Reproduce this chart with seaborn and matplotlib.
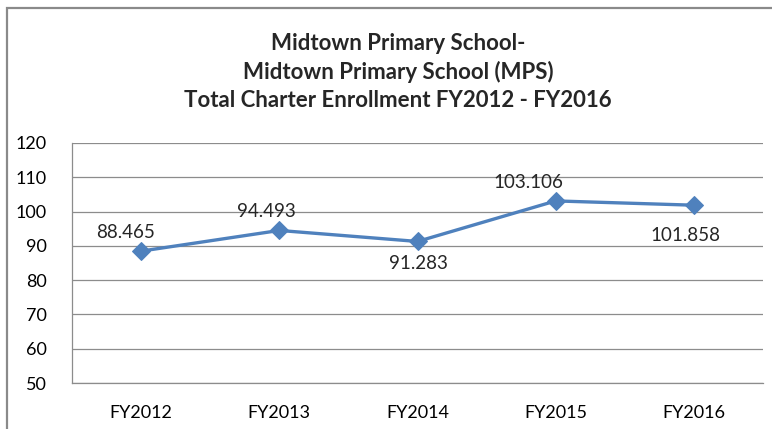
# Midtown Primary School charter enrollment line chart

import pandas as pd
import matplotlib.pyplot as plt
import matplotlib.patches as mpatches
import seaborn as sns

years = ['FY2012', 'FY2013', 'FY2014', 'FY2015', 'FY2016']
enrollment = [88.465, 94.493, 91.283, 103.106, 101.858]
y_ticks = [50, 60, 70, 80, 90, 100, 110, 120]

df = pd.DataFrame({'year': years, 'enrollment': enrollment})

sns.set_style('white')
plt.rcParams['font.family'] = ['Lato', 'DejaVu Sans']

fig = plt.figure(figsize=(7.72, 4.29), dpi=100)
ax = fig.add_axes([72 / 772, 1 - 383 / 429, 691 / 772, 240 / 429])

sns.lineplot(data=df, x='year', y='enrollment', ax=ax, color='#4F81BD', linewidth=2.4,
             marker='D', markersize=9, markeredgecolor='#4F81BD', sort=False)

ax.set_xlim(-0.5, len(years) - 0.5)
ax.set_ylim(y_ticks[0], y_ticks[-1])
ax.set_yticks(y_ticks)
ax.set_yticklabels([str(t) for t in y_ticks])
ax.set_xlabel('')
ax.set_ylabel('')
ax.yaxis.grid(True, color='#8c8c8c', linewidth=0.9)
ax.set_axisbelow(True)
ax.tick_params(axis='both', length=0, labelsize=13, colors='#000000')
ax.tick_params(axis='y', pad=18)
ax.tick_params(axis='x', pad=16)
for side in ['top', 'right']:
    ax.spines[side].set_visible(False)
for side in ['left', 'bottom']:
    ax.spines[side].set_color('#8c8c8c')
    ax.spines[side].set_linewidth(0.9)

# data labels (above or below each point, as in the source)
label_pos = [(-16, 10), (-13, 10), (1, -14), (-27, 10), (-8, -22)]
for i, (val, (dx, dy)) in enumerate(zip(enrollment, label_pos)):
    ax.annotate(f'{val:.3f}', (i, val), xytext=(dx, dy), textcoords='offset pixels',
                ha='center', va='bottom' if dy > 0 else 'top', fontsize=13.5)

fig.text(398 / 772, 1 - 72 / 429,
         'Midtown Primary School-\nMidtown Primary School (MPS)\nTotal Charter Enrollment FY2012 - FY2016',
         ha='center', va='center', fontsize=16, fontweight='bold', linespacing=1.4)

# chart frame
fig.patches.append(mpatches.Rectangle((7 / 772, -0.1), 1.2, 1.1 - 8 / 429, transform=fig.transFigure,
                                      fill=False, edgecolor='#8a8a8a', linewidth=1.6))

fig.savefig('out.png', dpi=100)
